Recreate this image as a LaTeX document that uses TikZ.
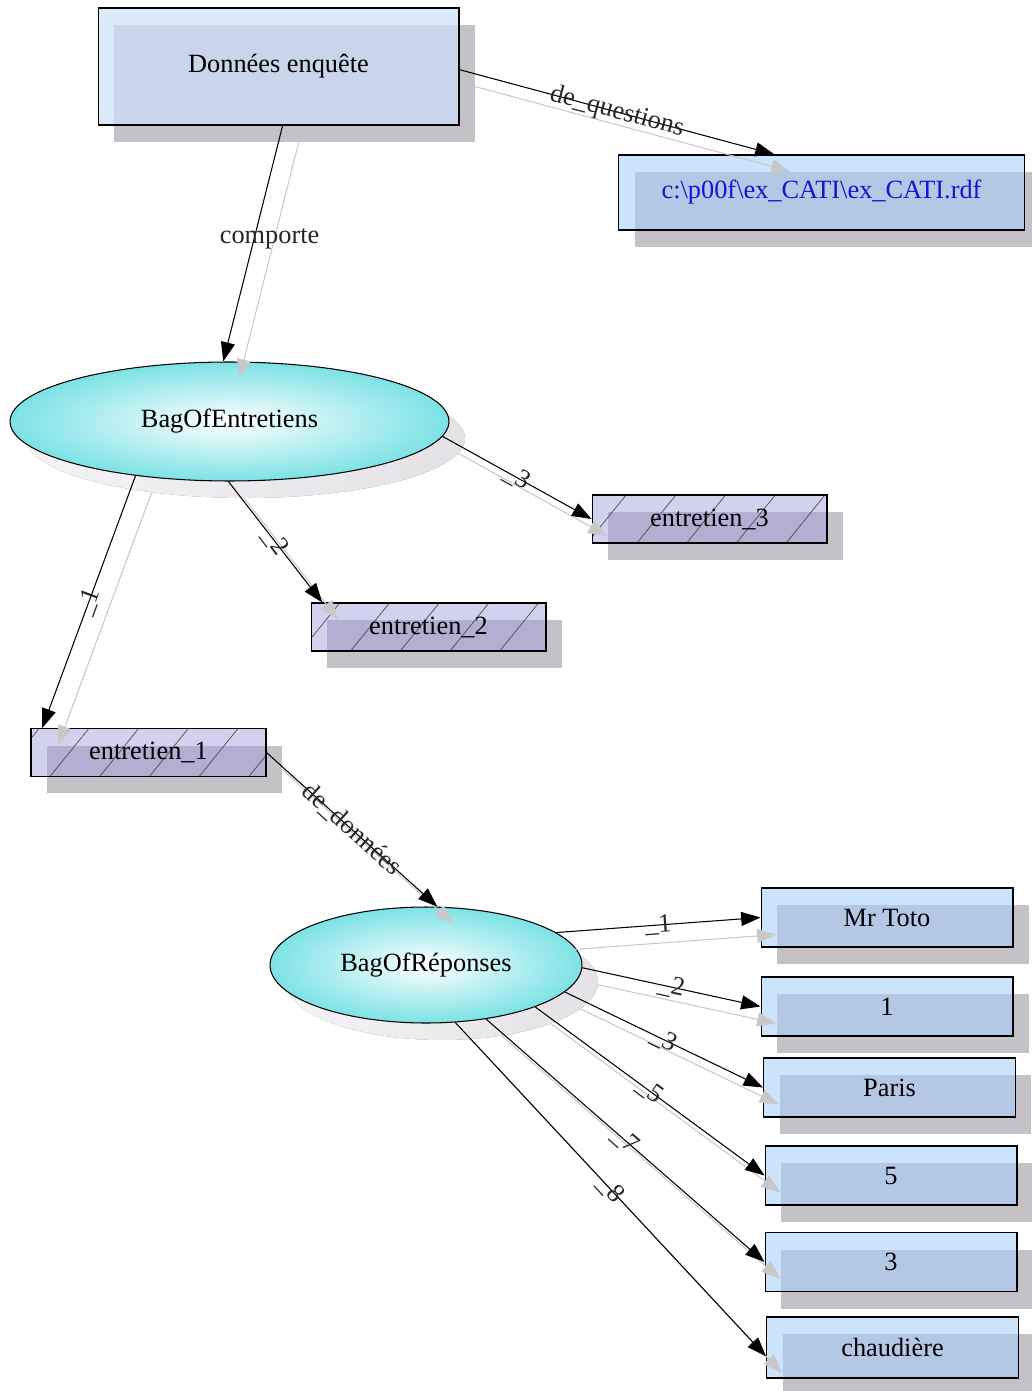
\documentclass[tikz,border=0pt]{standalone}
\usepackage{fontspec}
\setmainfont{Liberation Serif}
\definecolor{donblue}{RGB}{219,234,249}
\definecolor{donshade}{RGB}{201,213,234}
\definecolor{valblue}{RGB}{204,228,251}
\definecolor{valshade}{RGB}{180,200,230}
\definecolor{fileblue}{RGB}{20,20,210}
\definecolor{entlav}{RGB}{210,210,239}
\definecolor{entshade}{RGB}{180,174,210}
\definecolor{bagcyan}{RGB}{124,226,229}
\definecolor{shadowgray}{RGB}{196,194,198}
\definecolor{shadowlight}{RGB}{246,243,247}
\definecolor{relgray}{RGB}{200,200,200}
\usetikzlibrary{arrows.meta,shapes.geometric,shadows,patterns.meta}

\tikzset{
  shadowed/.style={drop shadow={shadow xshift=0.32cm,shadow yshift=-0.34cm,fill=shadowgray,opacity=1}},
  overlap/.style={path picture={
    \fill[#1] ([shift={(0.32cm,-0.34cm)}]path picture bounding box.north west)
      rectangle (path picture bounding box.south east);}},
  srcbox/.style={rectangle,draw,line width=0.6pt,inner sep=0pt,fill=donblue,overlap=donshade,shadowed,
    minimum width=7.22cm,minimum height=2.34cm},
  filebox/.style={rectangle,draw,line width=0.6pt,inner sep=0pt,fill=valblue,overlap=valshade,shadowed,
    text=fileblue,minimum width=8.12cm,minimum height=1.5cm},
  valbox/.style={rectangle,draw,line width=0.6pt,inner sep=0pt,fill=valblue,overlap=valshade,shadowed,
    minimum width=5.04cm,minimum height=1.18cm},
  entbox/.style={rectangle,draw,line width=0.6pt,inner sep=0pt,fill=entlav,shadowed,
    minimum width=4.7cm,minimum height=0.96cm,
    path picture={
      \fill[entshade] ([shift={(0.32cm,-0.34cm)}]path picture bounding box.north west)
        rectangle (path picture bounding box.south east);
      \fill[pattern={Lines[angle=51,distance=22pt,line width=0.4pt]},pattern color=black!70]
        (path picture bounding box.south west) rectangle (path picture bounding box.north east);}},
  bagnode/.style={ellipse,draw,line width=0.6pt,inner sep=0pt,inner color=white,outer color=bagcyan,
    drop shadow={shadow xshift=0.32cm,shadow yshift=-0.34cm,left color=shadowlight,
      right color=shadowlight!65!shadowgray,opacity=1}},
  rel/.style={draw=black,line width=0.6pt,-{Triangle[length=11pt,width=8pt]}},
  relshadow/.style={draw=relgray,line width=0.6pt,-{Triangle[length=11pt,width=8pt]}},
  lbl/.style={text=black!85}
}

\begin{document}
\begin{tikzpicture}[x=0.02cm,y=-0.02cm,font=\fontsize{15}{18}\selectfont]
  \useasboundingbox (0,0) rectangle (1031,1391);
  % survey data and its question file
  \node[srcbox] (don) at (278.5,66.5) {Données enquête};
  \node[filebox] (fichier) at (821.5,192.5) {c:\textbackslash p00f\textbackslash ex\_CATI\textbackslash ex\_CATI.rdf};
  % interviews
  \node[bagnode,minimum width=8.78cm,minimum height=2.38cm] (bagEnt) at (229.5,421.5) {BagOfEntretiens};
  \node[entbox] (ent3) at (709.5,519) {entretien\_3};
  \node[entbox] (ent2) at (428.5,627) {entretien\_2};
  \node[entbox] (ent1) at (148.5,752.5) {entretien\_1};
  % answers of the first interview
  \node[bagnode,minimum width=6.24cm,minimum height=2.32cm] (bagRep) at (426,965) {BagOfRéponses};
  \node[valbox] (toto) at (887,917.5) {Mr Toto};
  \node[valbox] (un) at (887,1006.5) {1};
  \node[valbox] (paris) at (889.5,1087.5) {Paris};
  \node[valbox] (cinq) at (891,1175.5) {5};
  \node[valbox] (trois) at (891,1262) {3};
  \node[valbox,minimum height=1.22cm] (chaud) at (892.5,1347.5) {chaudière};
  % relations, each one with its grey shadow
  \draw[relshadow] ([shift={(16,17)}]don.-86) -- ([shift={(16,17)}]bagEnt.96);
  \draw[rel] (don.-86) -- node[lbl,pos=0.48,xshift=0.31cm] {comporte} (bagEnt.96);
  \foreach \s/\t/\l in {don.-1/fichier.141/de\_questions,
                        bagEnt.-4/ent3.west/\_3,
                        bagEnt.-91/ent2.167/\_2,
                        bagEnt.210/ent1.167/\_1,
                        ent1.east/bagRep.79/de\_données,
                        bagRep.14/toto.west/\_1,
                        bagRep.-1/un.west/\_2,
                        bagRep.-11/paris.west/\_3,
                        bagRep.-21/cinq.west/\_5,
                        bagRep.-42/trois.west/\_7,
                        bagRep.-63/chaud.184/\_8}
  {
    \draw[relshadow] ([shift={(16,17)}]\s) -- ([shift={(16,17)}]\t);
    \draw[rel] (\s) -- node[lbl,sloped] {\l} (\t);
  }
\end{tikzpicture}
\end{document}
